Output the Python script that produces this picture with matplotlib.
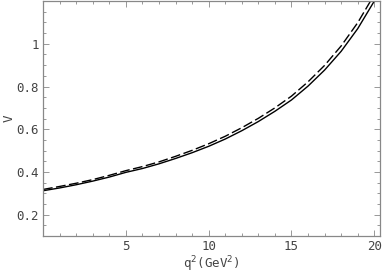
import matplotlib
matplotlib.use("Agg")
import matplotlib.pyplot as plt
from matplotlib.ticker import MultipleLocator

q2 = [0, 1, 2, 3, 4, 5, 6, 7, 8, 9, 10, 11, 12, 13, 14, 15, 16, 17, 18, 19, 20, 20.3]
v_solid = [0.312, 0.325, 0.340, 0.357, 0.376, 0.398, 0.416, 0.438, 0.463, 0.490, 0.520,
           0.554, 0.593, 0.636, 0.684, 0.737, 0.802, 0.877, 0.965, 1.071, 1.200, 1.243]
v_dashed = [0.318, 0.332, 0.347, 0.364, 0.384, 0.406, 0.425, 0.447, 0.473, 0.501, 0.532,
            0.567, 0.607, 0.651, 0.700, 0.755, 0.822, 0.899, 0.990, 1.099, 1.230, 1.275]

xticks = [5, 10, 15, 20]
yticks = [0.2, 0.4, 0.6, 0.8, 1.0]
ytick_labels = ["0.2", "0.4", "0.6", "0.8", "1"]

fig = plt.figure(figsize=(3.82, 2.73), dpi=100)
ax = fig.add_axes([0.1126, 0.1355, 0.8824, 0.8605])

ax.plot(q2, v_solid, color="black", lw=1.0)
ax.plot(q2, v_dashed, color="black", lw=1.0, dashes=(7, 2.5))

ax.set_xlim(0, 20.35)
ax.set_ylim(0.1, 1.2)

fam = "DejaVu Sans Mono"
grey = "#444444"
ax.set_xticks(xticks)
ax.set_xticklabels([str(t) for t in xticks], family=fam, fontsize=9, color=grey)
ax.set_yticks(yticks)
ax.set_yticklabels(ytick_labels, family=fam, fontsize=9, color=grey)
ax.xaxis.set_minor_locator(MultipleLocator(1))
ax.yaxis.set_minor_locator(MultipleLocator(0.05))
ax.tick_params(which="both", direction="in", top=True, right=True, color="#888888", width=0.6)
ax.tick_params(which="major", length=4, pad=3)
ax.tick_params(which="minor", length=2)
for s in ax.spines.values():
    s.set_color("#888888")
    s.set_linewidth(0.9)

ax.set_xlabel(r"q$^2$(GeV$^2$)", family=fam, fontsize=9, color=grey, labelpad=1)
ax.set_ylabel("V", family=fam, fontsize=9, color=grey)
ax.yaxis.set_label_coords(-0.082, 0.5)

fig.savefig("out.png", dpi=100)
